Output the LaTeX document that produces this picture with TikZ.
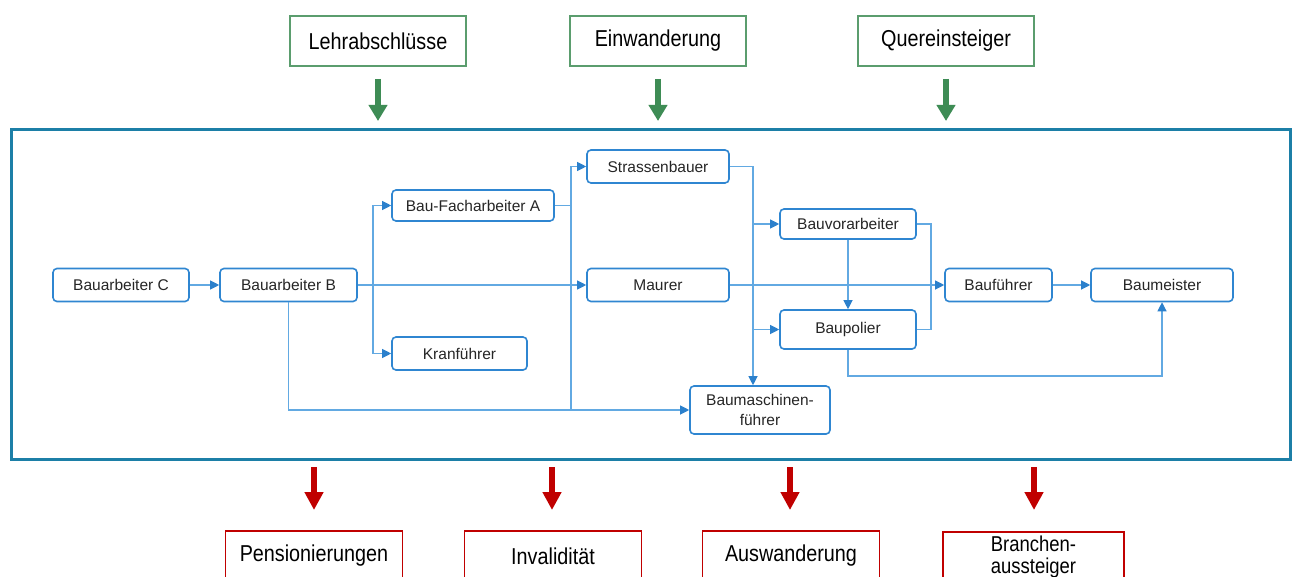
\documentclass[tikz,border=0pt]{standalone}
\usepackage{fontspec}
\setmainfont{Liberation Sans}
\newfontfamily\condfont[FakeStretch=0.86]{Liberation Sans}
\usetikzlibrary{arrows.meta,calc}
\definecolor{frameblue}{HTML}{1C7FA7}
\definecolor{nodeblue}{HTML}{2F86D1}
\definecolor{lineblue}{HTML}{62A9E2}
\definecolor{tipblue}{HTML}{2B80CC}
\definecolor{ingreen}{HTML}{3E8C55}
\definecolor{outred}{HTML}{C00000}
\begin{document}
\begin{tikzpicture}[x=1pt,y=-1pt,
  box/.style={draw=nodeblue,line width=1.6pt,rounded corners=4pt,inner sep=0pt,
    align=center,font=\fontsize{15.5}{19.5}\selectfont,text=black!85},
  inbox/.style={draw=ingreen!85!white,line width=1.8pt,inner sep=0pt,minimum width=176pt,
    minimum height=50pt,font=\condfont\fontsize{23}{25}\selectfont},
  outbox/.style={draw=outred,line width=1.8pt,inner sep=0pt,minimum width=177pt,
    minimum height=50pt,align=center,font=\condfont\fontsize{23}{25}\selectfont},
  lin/.style={draw=lineblue,line width=1.1pt},
  conn/.style={lin,-{Triangle[length=9pt,width=9pt,color=tipblue]}},
  garrow/.style={draw=ingreen,line width=6pt,-{Triangle[length=16pt,width=18pt]}},
  rarrow/.style={draw=outred,line width=6pt,-{Triangle[length=18pt,width=18pt]}}]
\useasboundingbox (0,0) rectangle (1297,577);
\fill[white] (0,0) rectangle (1297,577);

% inflow boxes
\node[inbox] (lehr) at (378,41) {Lehrabschlüsse};
\node[inbox] (einw) at (658,41) {Einwanderung};
\node[inbox] (quer) at (946,41) {Quereinsteiger};
\coordinate (g1s) at (378,79); \coordinate (g1e) at (378,121);
\coordinate (g2s) at (658,79); \coordinate (g2e) at (658,121);
\coordinate (g3s) at (946,79); \coordinate (g3e) at (946,121);
\draw[garrow] (g1s) -- (g1e);
\draw[garrow] (g2s) -- (g2e);
\draw[garrow] (g3s) -- (g3e);

% frame
\draw[frameblue,line width=3pt] (11,130) rectangle (1290,459);

% outflow
\coordinate (r1s) at (314,467); \coordinate (r1e) at (314,510);
\coordinate (r2s) at (552,467); \coordinate (r2e) at (552,510);
\coordinate (r3s) at (790,467); \coordinate (r3e) at (790,510);
\coordinate (r4s) at (1034,467); \coordinate (r4e) at (1034,510);
\draw[rarrow] (r1s) -- (r1e);
\draw[rarrow] (r2s) -- (r2e);
\draw[rarrow] (r3s) -- (r3e);
\draw[rarrow] (r4s) -- (r4e);
\node[outbox] (pens) at (314,556) {Pensionierungen};
\node[outbox] (inva) at (553,556) {Invalidität};
\node[outbox] (ausw) at (791,556) {Auswanderung};
\node[outbox,minimum width=181pt,anchor=north,font=\condfont\fontsize{21.5}{22}\selectfont] (bran) at (1033.5,531) {Branchen-\\aussteiger};

% inner nodes
\node[box,minimum width=136pt,minimum height=33pt] (C) at (121,285) {Bauarbeiter C};
\node[box,minimum width=137pt,minimum height=33pt] (B) at (288.5,285) {Bauarbeiter B};
\node[box,minimum width=162pt,minimum height=31pt] (A) at (473,205.5) {Bau-Facharbeiter A};
\node[box,minimum width=135pt,minimum height=33pt] (K) at (459.5,353.5) {Kranführer};
\node[box,minimum width=142pt,minimum height=33pt] (S) at (658,166.5) {Strassenbauer};
\node[box,minimum width=142pt,minimum height=33pt] (M) at (658,285) {Maurer};
\node[box,minimum width=140pt,minimum height=48pt] (Bm) at (760,410) {Baumaschinen-\\führer};
\node[box,minimum width=136pt,minimum height=30pt] (V) at (848,224) {Bauvorarbeiter};
\node[box,minimum width=136pt,minimum height=39pt] (P) at (848,329.5) {Baupolier};
\node[box,minimum width=107pt,minimum height=33pt] (F) at (998.5,285) {Bauführer};
\node[box,minimum width=142pt,minimum height=33pt] (BM) at (1162,285) {Baumeister};

% junction coordinates
\coordinate (j1) at (373,285);
\coordinate (j2) at (571,285);
\coordinate (j3) at (753,285);
\coordinate (j4) at (931,285);
\coordinate (j5) at (1162,376);

% connectors
\draw[conn] (C) -- (B);
\draw[conn] (B.east) -- (M.west);
\draw[conn] (j1 |- A.west) -- (A.west);
\draw[lin] (j1 |- A.west) -- (j1 |- K.west);
\draw[conn] (j1 |- K.west) -- (K.west);
\draw[conn] (B.south) |- (Bm.west);
\draw[lin] (A.east) -- (j2 |- A.east);
\draw[conn] (j2 |- Bm.west) |- (S.west);
\draw[conn] (S.east) -| (j3 |- Bm.north);
\draw[conn] (j3 |- V.west) -- (V.west);
\draw[conn] (j3 |- P.west) -- (P.west);
\draw[conn] (M.east) -- (F.west);
\draw[conn] (V.south) -- (P.north);
\draw[lin] (V.east) -| (j4) |- (P.east);
\draw[conn] (P.south) |- (j5) -- (BM.south);
\draw[conn] (F) -- (BM);
\end{tikzpicture}
\end{document}
